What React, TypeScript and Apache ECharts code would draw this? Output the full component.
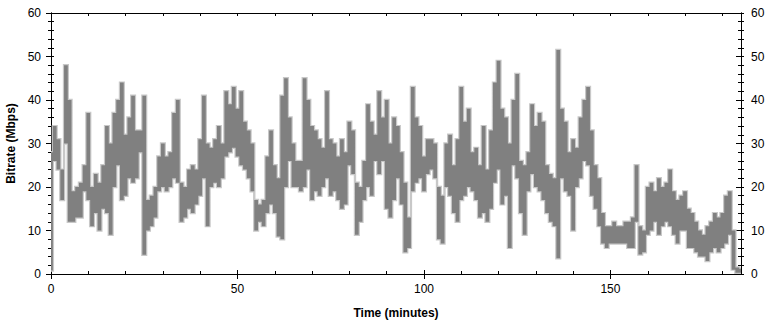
import React, { useEffect, useRef } from "react";
import * as echarts from "echarts";

// Time in minutes for each sample (one per minute)
const minutes: number[] = Array.from({ length: 186 }, (_, i) => i);

// Per-minute low and high bitrate (Mbps)
const lowMbps: number[] = [
  0.8, 26, 24, 17, 30, 12, 12, 13, 13, 19,
  17, 11, 14, 10, 15, 14, 9, 20, 25, 17,
  18, 22, 21, 22, 28, 4.4, 10, 11, 13, 19,
  20, 19, 20, 22, 21, 12, 13, 15, 14, 16,
  18, 22, 11, 20, 21, 20, 22, 27, 28, 29,
  27, 25, 24, 22, 19, 10, 12, 11, 14, 16,
  14, 8.6, 8, 20, 26, 20, 20, 19, 20, 24,
  17, 19, 18, 20, 22, 18, 19, 17, 15, 16,
  25, 23, 9, 12, 17, 20, 18, 26, 23, 26,
  15, 13, 17, 22, 16, 5, 6, 19, 21, 22,
  19, 23, 24, 22, 8, 7, 20, 18, 14, 12,
  17, 18, 20, 19, 17, 13, 14, 12, 15, 21,
  24, 16, 18, 6, 25, 22, 14, 9, 19, 23,
  20, 19, 17, 14, 12, 11, 3.6, 22, 19, 18,
  10, 20, 22, 26, 25, 18, 15, 11, 7, 6,
  7, 7, 7, 7, 7, 6, 6, 12, 4.5, 5,
  9, 10, 12, 9, 11, 12, 11, 9, 7, 10,
  10, 6, 6, 5, 4, 4, 3, 5, 6, 5,
  6, 7, 9, 1, 0.3, 0.3,
];

const highMbps: number[] = [
  28, 34, 31, 24, 48, 40, 19, 20, 21, 25,
  37, 20, 23, 21, 25, 34, 30, 37, 40, 44,
  32, 36, 41, 33, 33, 41, 17, 18, 20, 27,
  30, 27, 28, 37, 40, 21, 20, 24, 25, 24,
  31, 41, 30, 29, 31, 34, 30, 42, 39, 43,
  38, 42, 35, 33, 30, 17, 16, 17, 27, 33,
  25, 22, 41, 45, 36, 30, 26, 26, 45, 40,
  34, 33, 31, 29, 42, 31, 30, 27, 31, 28,
  35, 33, 21, 20, 26, 39, 35, 32, 42, 36,
  40, 30, 36, 34, 28, 21, 13, 43, 36, 34,
  27, 31, 31, 30, 20, 18, 30, 32, 25, 31,
  43, 35, 38, 28, 29, 25, 34, 24, 33, 44,
  49, 38, 36, 30, 40, 46, 26, 25, 28, 39,
  34, 37, 35, 25, 23, 22, 51.5, 38, 35, 28,
  31, 29, 36, 40, 43, 33, 25, 22, 14, 11,
  11, 12, 11, 11, 12, 12, 13, 25, 11, 10,
  20, 21, 19, 22, 20, 21, 24, 19, 17, 18,
  19, 15, 14, 12, 10, 9, 11, 12, 14, 13,
  14, 18, 19, 10, 1.5, 1.2,
];

const xTicks = { min: 0, max: 185, interval: 50 };
const yTicks = { min: 0, max: 60, interval: 10 };

export default function App() {
  const ref = useRef<HTMLDivElement>(null);
  useEffect(() => {
    if (!ref.current) return;
    const chart = echarts.init(ref.current, undefined, { renderer: "svg" });

    const rows = minutes.map((t, i) => [t, lowMbps[i], highMbps[i]]);

    const font = "'Liberation Sans', Arial, sans-serif";
    const labelStyle = { color: "#000", fontSize: 12, fontFamily: font };
    const lineStyle = { color: "#000", width: 1 };

    const baseX = {
      type: "value" as const,
      min: xTicks.min,
      max: xTicks.max,
      interval: xTicks.interval,
      splitLine: { show: false },
      axisLine: { show: true, onZero: false, lineStyle },
    };
    const baseY = {
      type: "value" as const,
      min: yTicks.min,
      max: yTicks.max,
      interval: yTicks.interval,
      splitLine: { show: false },
      axisLine: { show: true, onZero: false, lineStyle },
    };

    // each minute is drawn as a column spanning its low..high range
    const renderBand = (params: any, api: any) => {
      if (params.dataIndex !== 0) return null;
      const w = 0.5;
      const top: number[][] = [];
      const bottom: number[][] = [];
      rows.forEach((r) => {
        const a = Math.max(xTicks.min, r[0] - w);
        const b = Math.min(xTicks.max, r[0] + w);
        top.push(api.coord([a, r[2]]), api.coord([b, r[2]]));
        bottom.push(api.coord([a, r[1]]), api.coord([b, r[1]]));
      });
      const pts = top.concat(bottom.reverse());
      return {
        type: "group",
        children: [
          {
            type: "polygon",
            shape: { points: pts },
            style: { fill: "#808080", stroke: "#c8c8c8", lineWidth: 2.4 },
          },
          {
            type: "polygon",
            shape: { points: pts },
            style: { fill: "#808080", stroke: null },
          },
        ],
      };
    };

    chart.setOption({
      animation: false,
      grid: {
        left: 51,
        right: 32,
        top: 13,
        bottom: 47,
        containLabel: false,
        outerBoundsMode: "none",
      },
      xAxis: [
        {
          ...baseX,
          position: "bottom",
          name: "Time (minutes)",
          nameLocation: "middle",
          nameGap: 33,
          nameTextStyle: { ...labelStyle, fontWeight: "bold" },
          axisTick: { show: true, inside: false, length: 5, lineStyle },
          axisLabel: { ...labelStyle, margin: 9, showMaxLabel: false },
          minorTick: { show: false },
        },
        {
          ...baseX,
          position: "bottom",
          axisTick: { show: true, inside: true, length: 4, lineStyle },
          axisLabel: { show: false },
          minorTick: { show: true, splitNumber: 5, length: 3, lineStyle },
        },
        {
          ...baseX,
          position: "top",
          axisTick: { show: true, inside: true, length: 3, lineStyle },
          axisLabel: { show: false },
          minorTick: { show: true, splitNumber: 5, length: 3, lineStyle },
        },
      ],
      yAxis: [
        {
          ...baseY,
          position: "left",
          name: "Bitrate (Mbps)",
          nameLocation: "middle",
          nameGap: 33,
          nameTextStyle: { ...labelStyle, fontWeight: "bold" },
          axisTick: { show: true, inside: false, length: 5, lineStyle },
          axisLabel: { ...labelStyle, margin: 10 },
          minorTick: { show: true, splitNumber: 5, length: 3, lineStyle },
        },
        {
          ...baseY,
          position: "left",
          axisTick: { show: true, inside: true, length: 3, lineStyle },
          axisLabel: { show: false },
          minorTick: { show: true, splitNumber: 5, length: 3, lineStyle },
        },
        {
          ...baseY,
          position: "right",
          axisTick: { show: true, inside: false, length: 3, lineStyle },
          axisLabel: { ...labelStyle, margin: 10 },
          minorTick: { show: true, splitNumber: 5, length: 3, lineStyle },
        },
        {
          ...baseY,
          position: "right",
          axisTick: { show: true, inside: true, length: 5, lineStyle },
          axisLabel: { show: false },
          minorTick: { show: true, splitNumber: 5, length: 3, lineStyle },
        },
      ],
      series: [
        {
          type: "custom",
          name: "Bitrate",
          xAxisIndex: 0,
          yAxisIndex: 0,
          data: rows,
          encode: { x: 0, y: [1, 2] },
          renderItem: renderBand,
          clip: true,
        },
      ],
    });
    return () => chart.dispose();
  }, []);

  return (
    <div
      ref={ref}
      style={{ position: "absolute", left: 0, top: 0, width: 773, height: 321 }}
    />
  );
}
